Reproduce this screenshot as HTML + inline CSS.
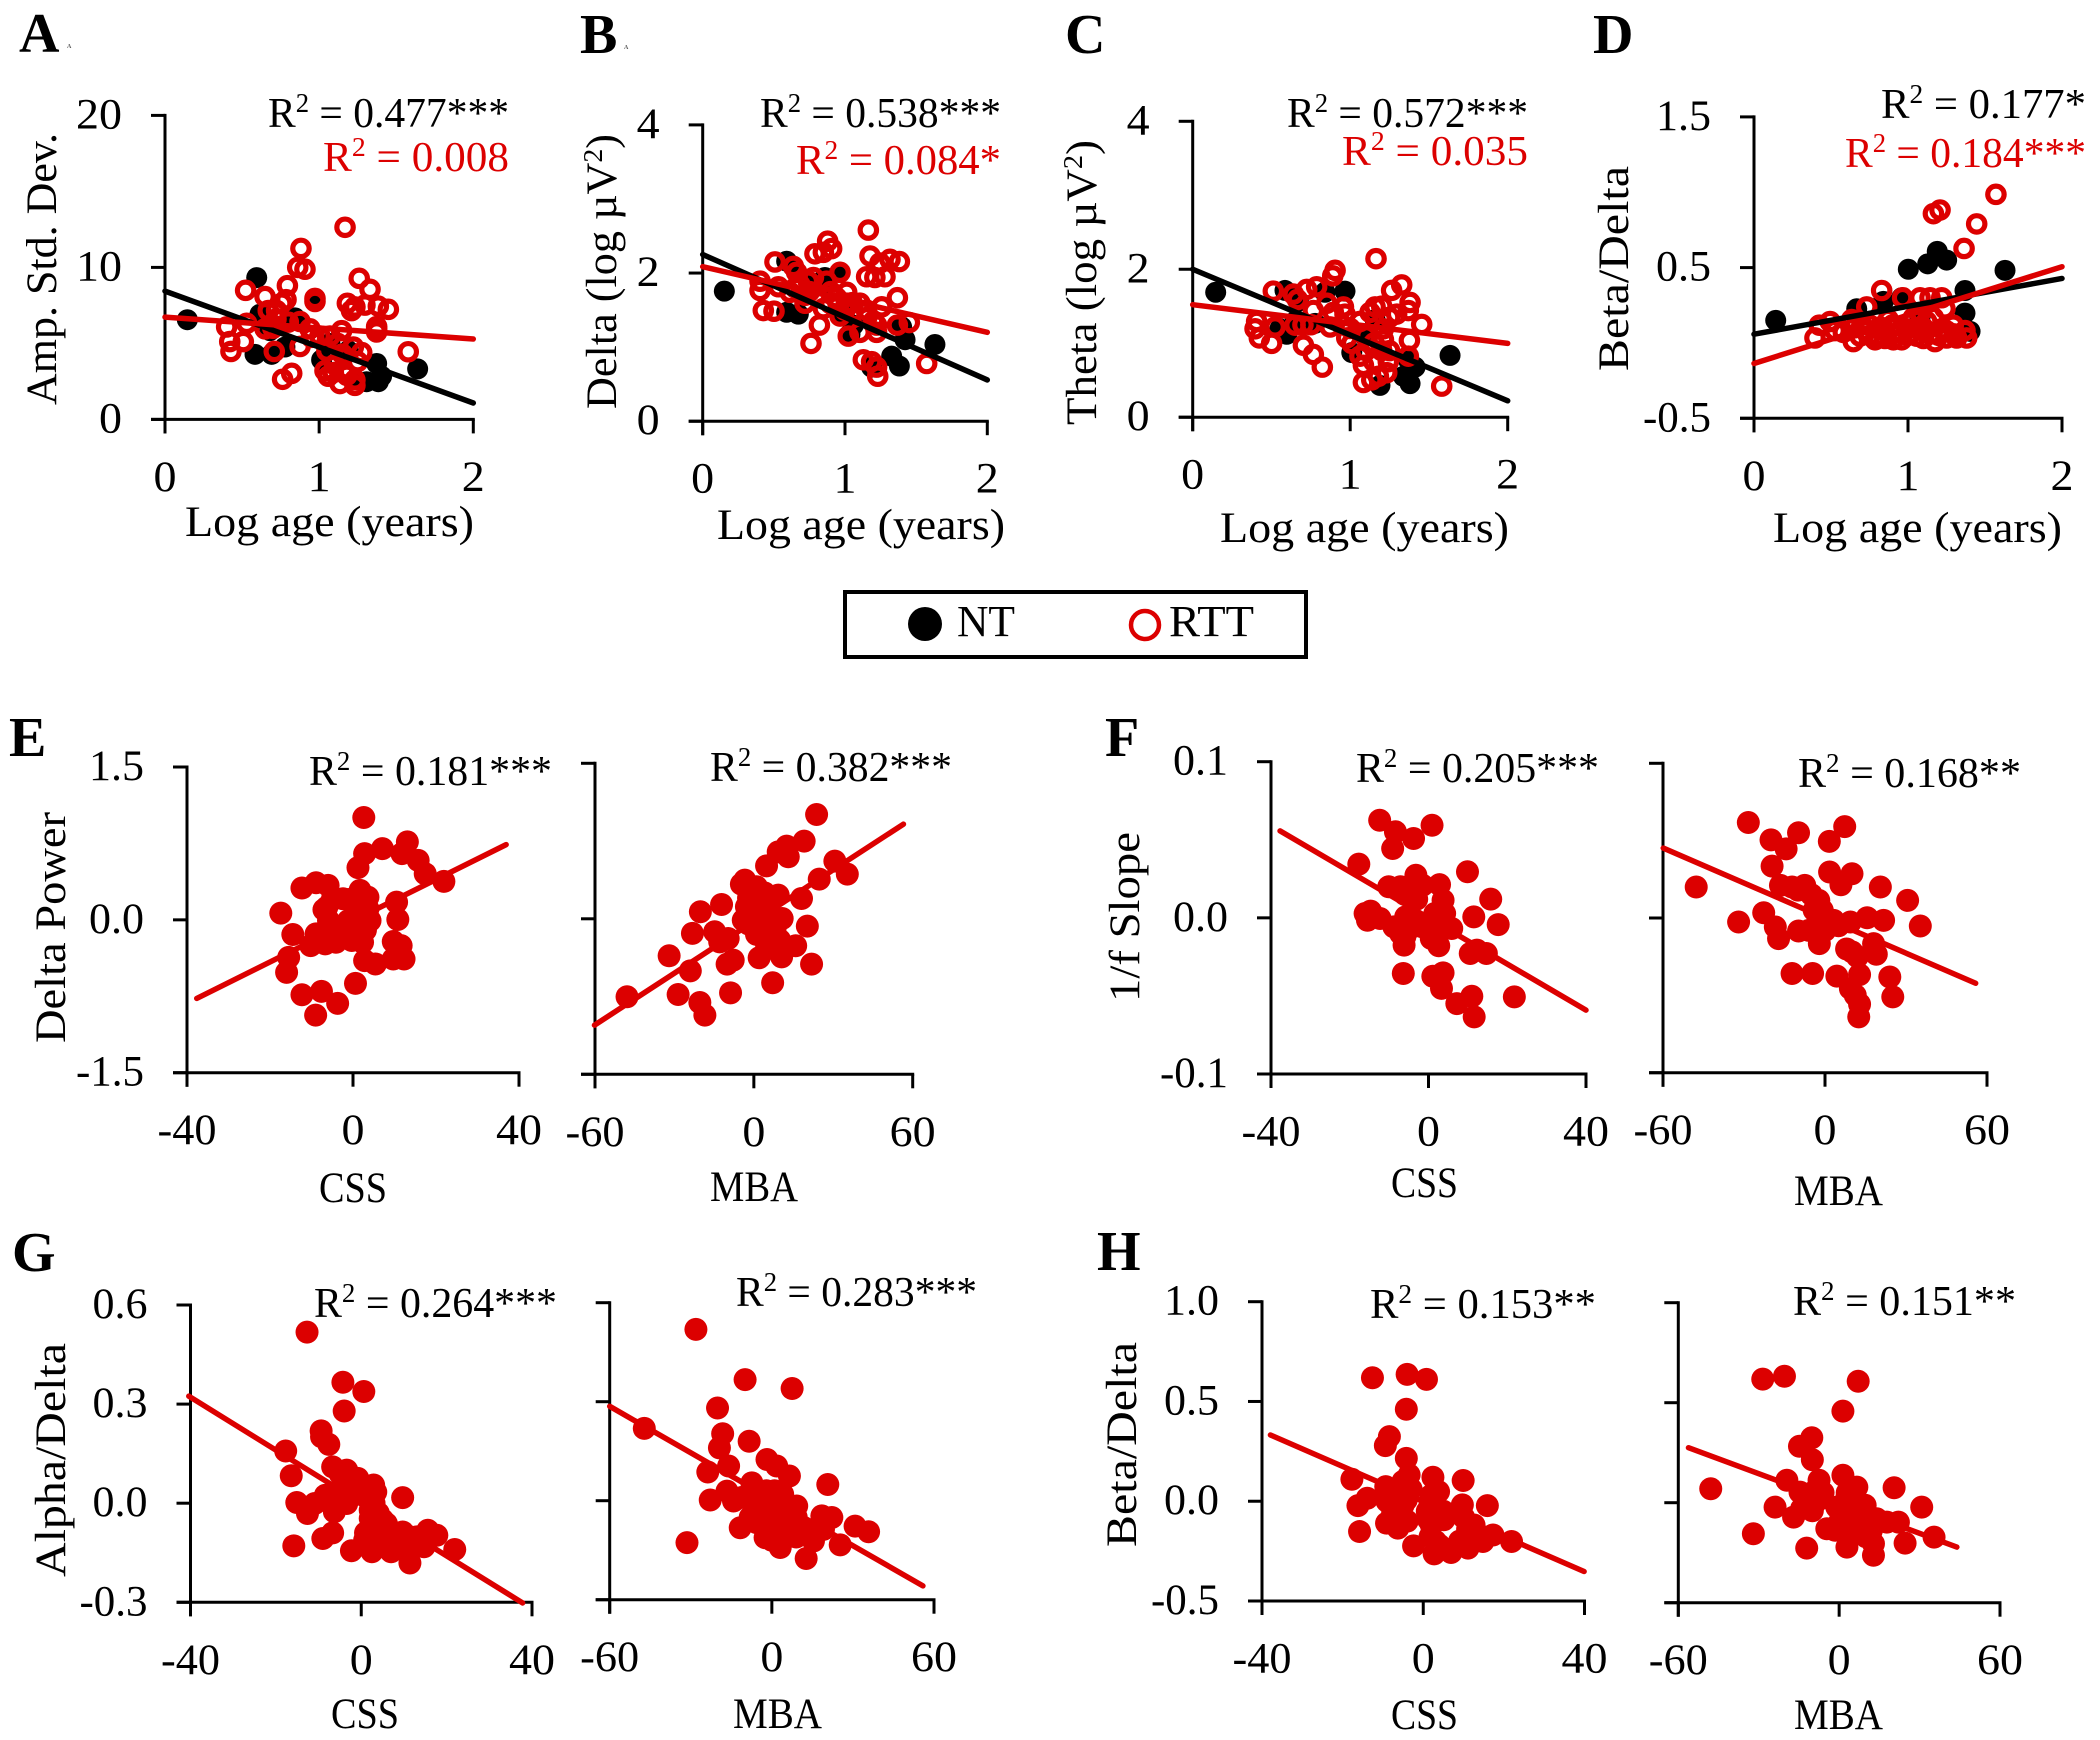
<!DOCTYPE html>
<html lang="en">
<head>
<meta charset="utf-8">
<title>EEG power correlations</title>
<style>
html,body{margin:0;padding:0;background:#fff;width:2100px;height:1740px;overflow:hidden}
svg{display:block}
text{font-family:"Liberation Serif",serif;font-size:43px;fill:#000}
.red{fill:#dc0000}
.r2{font-size:42px}
.letter{font-size:56px;font-weight:bold}
.tiny{font-size:6px;fill:#555;font-weight:bold}
</style>
</head>
<body>
<svg id="figure" xmlns="http://www.w3.org/2000/svg" width="2100" height="1740" viewBox="0 0 2100 1740">
  <rect width="2100" height="1740" fill="#fff"/>
  <g id="plots"></g>

  <g>
    <text class="letter" x="19" y="52">A</text>
    <text class="tiny" x="67" y="48">A</text>
    <text class="letter" x="580" y="53">B</text>
    <text class="tiny" x="624" y="49">A</text>
    <text class="letter" x="1065" y="53">C</text>
    <text class="letter" x="1593" y="53">D</text>
    <text class="letter" x="9" y="756">E</text>
    <text class="letter" x="1105" y="756">F</text>
    <text class="letter" x="12" y="1271">G</text>
    <text class="letter" x="1097" y="1270">H</text>
  </g>

  <g>
    <text x="185" y="536" textLength="289" lengthAdjust="spacingAndGlyphs">Log age (years)</text>
    <text x="717" y="539" textLength="288" lengthAdjust="spacingAndGlyphs">Log age (years)</text>
    <text x="1220" y="542" textLength="289" lengthAdjust="spacingAndGlyphs">Log age (years)</text>
    <text x="1773" y="542" textLength="289" lengthAdjust="spacingAndGlyphs">Log age (years)</text>
    <text x="319" y="1202" textLength="68" lengthAdjust="spacingAndGlyphs">CSS</text>
    <text x="710" y="1201" textLength="88" lengthAdjust="spacingAndGlyphs">MBA</text>
    <text x="1391" y="1197" textLength="67" lengthAdjust="spacingAndGlyphs">CSS</text>
    <text x="1794" y="1205" textLength="89" lengthAdjust="spacingAndGlyphs">MBA</text>
    <text x="331" y="1728" textLength="68" lengthAdjust="spacingAndGlyphs">CSS</text>
    <text x="733" y="1728" textLength="89" lengthAdjust="spacingAndGlyphs">MBA</text>
    <text x="1391" y="1729" textLength="67" lengthAdjust="spacingAndGlyphs">CSS</text>
    <text x="1794" y="1729" textLength="89" lengthAdjust="spacingAndGlyphs">MBA</text>
  </g>

  <g>
    <text transform="translate(56 405) rotate(-90)" textLength="272" lengthAdjust="spacingAndGlyphs">Amp. Std. Dev.</text>
    <text transform="translate(616 409) rotate(-90)" textLength="275" lengthAdjust="spacingAndGlyphs">Delta (log µV<tspan dy="-14" font-size="27">2</tspan><tspan dy="14">)</tspan></text>
    <text transform="translate(1096 425) rotate(-90)" textLength="285" lengthAdjust="spacingAndGlyphs">Theta (log µV<tspan dy="-14" font-size="27">2</tspan><tspan dy="14">)</tspan></text>
    <text transform="translate(1628 371) rotate(-90)" textLength="205" lengthAdjust="spacingAndGlyphs">Beta/Delta</text>
    <text transform="translate(65 1043) rotate(-90)" textLength="231" lengthAdjust="spacingAndGlyphs">Delta Power</text>
    <text transform="translate(1139 1002) rotate(-90)" textLength="170" lengthAdjust="spacingAndGlyphs">1/f Slope</text>
    <text transform="translate(65 1577) rotate(-90)" textLength="234" lengthAdjust="spacingAndGlyphs">Alpha/Delta</text>
    <text transform="translate(1136 1547) rotate(-90)" textLength="205" lengthAdjust="spacingAndGlyphs">Beta/Delta</text>
  </g>

  <g>
    <text class="r2" x="268" y="127" textLength="241" lengthAdjust="spacingAndGlyphs">R<tspan dy="-15" font-size="27">2</tspan><tspan dy="15"> = 0.477***</tspan></text>
    <text class="r2 red" x="323" y="171" textLength="186" lengthAdjust="spacingAndGlyphs">R<tspan dy="-15" font-size="27">2</tspan><tspan dy="15"> = 0.008</tspan></text>
    <text class="r2" x="760" y="127" textLength="241" lengthAdjust="spacingAndGlyphs">R<tspan dy="-15" font-size="27">2</tspan><tspan dy="15"> = 0.538***</tspan></text>
    <text class="r2 red" x="796" y="174" textLength="205" lengthAdjust="spacingAndGlyphs">R<tspan dy="-15" font-size="27">2</tspan><tspan dy="15"> = 0.084*</tspan></text>
    <text class="r2" x="1287" y="127" textLength="241" lengthAdjust="spacingAndGlyphs">R<tspan dy="-15" font-size="27">2</tspan><tspan dy="15"> = 0.572***</tspan></text>
    <text class="r2 red" x="1342" y="165" textLength="186" lengthAdjust="spacingAndGlyphs">R<tspan dy="-15" font-size="27">2</tspan><tspan dy="15"> = 0.035</tspan></text>
    <text class="r2" x="1881" y="118" textLength="205" lengthAdjust="spacingAndGlyphs">R<tspan dy="-15" font-size="27">2</tspan><tspan dy="15"> = 0.177*</tspan></text>
    <text class="r2 red" x="1845" y="167" textLength="241" lengthAdjust="spacingAndGlyphs">R<tspan dy="-15" font-size="27">2</tspan><tspan dy="15"> = 0.184***</tspan></text>
    <text class="r2" x="309" y="785" textLength="243" lengthAdjust="spacingAndGlyphs">R<tspan dy="-15" font-size="27">2</tspan><tspan dy="15"> = 0.181***</tspan></text>
    <text class="r2" x="710" y="781" textLength="242" lengthAdjust="spacingAndGlyphs">R<tspan dy="-15" font-size="27">2</tspan><tspan dy="15"> = 0.382***</tspan></text>
    <text class="r2" x="1356" y="782" textLength="243" lengthAdjust="spacingAndGlyphs">R<tspan dy="-15" font-size="27">2</tspan><tspan dy="15"> = 0.205***</tspan></text>
    <text class="r2" x="1798" y="787" textLength="223" lengthAdjust="spacingAndGlyphs">R<tspan dy="-15" font-size="27">2</tspan><tspan dy="15"> = 0.168**</tspan></text>
    <text class="r2" x="314" y="1317" textLength="243" lengthAdjust="spacingAndGlyphs">R<tspan dy="-15" font-size="27">2</tspan><tspan dy="15"> = 0.264***</tspan></text>
    <text class="r2" x="736" y="1306" textLength="241" lengthAdjust="spacingAndGlyphs">R<tspan dy="-15" font-size="27">2</tspan><tspan dy="15"> = 0.283***</tspan></text>
    <text class="r2" x="1370" y="1318" textLength="226" lengthAdjust="spacingAndGlyphs">R<tspan dy="-15" font-size="27">2</tspan><tspan dy="15"> = 0.153**</tspan></text>
    <text class="r2" x="1793" y="1315" textLength="223" lengthAdjust="spacingAndGlyphs">R<tspan dy="-15" font-size="27">2</tspan><tspan dy="15"> = 0.151**</tspan></text>
  </g>

  <g>
    <rect x="845" y="592" width="461" height="65" fill="#fff" stroke="#000" stroke-width="4"/>
    <circle cx="925" cy="624" r="17" fill="#000"/>
    <text x="957" y="636" textLength="58" lengthAdjust="spacingAndGlyphs" style="font-size:44px">NT</text>
    <circle cx="1145" cy="625" r="14" fill="none" stroke="#dc0000" stroke-width="4.5"/>
    <text x="1169" y="636" textLength="85" lengthAdjust="spacingAndGlyphs" style="font-size:44px">RTT</text>
  </g>
</svg>

<script>
// ---- tick values and labels ----
const ageTicks = [0, 1, 2];
const ageTickLabels = ['0', '1', '2'];
const cssTicks = [-40, 0, 40];
const cssTickLabels = ['-40', '0', '40'];
const mbaTicks = [-60, 0, 60];
const mbaTickLabels = ['-60', '0', '60'];
const ampTicks = [0, 10, 20];
const ampTickLabels = ['0', '10', '20'];
const powerTicks = [0, 2, 4];
const powerTickLabels = ['0', '2', '4'];
const ratioDTicks = [-0.5, 0.5, 1.5];
const ratioDTickLabels = ['-0.5', '0.5', '1.5'];
const deltaPowerTicks = [-1.5, 0, 1.5];
const deltaPowerTickLabels = ['-1.5', '0.0', '1.5'];
const slopeTicks = [-0.1, 0, 0.1];
const slopeTickLabels = ['-0.1', '0.0', '0.1'];
const alphaTicks = [-0.3, 0, 0.3, 0.6];
const alphaTickLabels = ['-0.3', '0.0', '0.3', '0.6'];
const betaTicks = [-0.5, 0, 0.5, 1];
const betaTickLabels = ['-0.5', '0.0', '0.5', '1.0'];

// ---- panel A ----
const aNtX = [.145,.595,.973,.616,.584,.692,.778,.843,.681,1.373,1.639,1.308,1.384,1.405,1.232,1.016,1.07,1.189];
const aNtY = [6.56,9.33,7.88,6.92,4.28,4.28,4.76,6.68,5.84,3.68,3.32,2.48,2.48,2.84,2.6,3.92,5,4.52];
const aRttX = [1.168,.882,.861,.908,.794,.523,.649,.973,.973,.785,1.26,1.33,1.183,1.232,1.297,1.384,1.449,1.21,.67,.724,.757,.876,.4,.53,.649,.42,.508,.428,.709,.876,.763,.822,1.578,1.146,1.07,1.005,1.222,1.276,1.038,1.092,1.157,1.135,1.232,1.232,1.059,1.373,1.373,1.373,.94,1.15,1.05,1.1,1.18,.95,.72,.8,.7,1.12,1.25];
const aRttY = [12.64,11.25,10,9.88,8.8,8.49,8.08,7.96,7.76,7.88,9.28,8.56,7.64,7.4,7.52,7.45,7.24,7.16,7.16,7.16,7.64,6.44,6.08,6.32,5.96,5.12,5.12,4.47,4.47,4.8,2.64,3.03,4.45,5.84,5.48,5.48,4.76,4.4,3.2,3.08,3.2,2.36,2.24,2.6,2.84,5.96,5.75,6.1,5.96,4.3,4.5,3.6,2.9,5.4,6.6,6.4,6,5,3.8];
const aNtLineY = [8.44, 1.08];
const aRttLineY = [6.73, 5.29];

// ---- panel B ----
const bNtX = [.152,.59,.965,.859,.871,.59,.672,.988,1.035,1.422,1.632,1.328,1.382,1.187,1.398,1.059,.637,.742];
const bNtY = [1.756,2.16,2.01,1.94,1.864,1.47,1.445,1.445,1.174,1.1,1.036,.878,.745,.73,1.272,1.297,2.09,1.89];
const bRttX = [1.164,.878,.906,.789,.848,1.176,1.316,1.382,1.246,.508,.637,.66,1.152,1.21,1.281,1.368,.403,.403,.532,.778,.742,.965,.871,1.012,.941,1.105,1.258,.426,.501,.719,.848,.965,.82,.761,1.368,1.452,1.222,1.152,1.023,1.105,1.222,1.129,1.187,1.222,1.23,1.574,.684,.614,1.059,.895,1.012,.75,.8,.95,.9,1,1.05,.72,.65,1.15,1.2];
const bRttY = [2.58,2.43,2.33,2.26,2.28,2.23,2.185,2.155,2.135,2.15,2.09,2.01,1.95,1.94,1.95,1.667,1.89,1.765,1.815,1.94,1.89,2.01,1.89,1.74,1.667,1.593,1.544,1.494,1.485,1.593,1.52,1.42,1.297,1.05,1.297,1.332,1.297,1.396,1.149,1.2,1.2,.829,.804,.73,.607,.779,1.84,1.74,1.494,1.593,1.593,1.75,1.7,1.6,1.75,1.5,1.6,1.7,1.8,1.5,1.35];
const bNtLineY = [2.25, .557];
const bRttLineY = [2.086, 1.2];

// ---- panel C ----
const cNtX = [.146,.586,.967,.84,.671,.777,.65,.554,.597,1.094,1.01,1.189,1.338,1.38,1.412,1.369,1.634,1.158];
const cNtY = [1.689,1.714,1.704,1.689,1.565,1.269,1.294,1.195,1.121,1.096,.874,.43,.553,.454,.677,.775,.835,1.319];
const cRttX = [1.164,.904,.889,1.327,1.263,1.38,.512,.639,.665,.724,.787,1.158,1.126,1.295,.406,.396,.423,.501,.523,.65,.766,.893,.967,.872,.978,.703,.766,.823,1.454,1.376,1.369,1.581,1.062,1.211,1.062,1.084,1.242,1.232,1.084,1.137,1.179,1.211,1.01,.957,.851,1.369,.7,.75,1,1.1,1.15,1.2,1.1,1.25,.95,1.15,1.2,1.25];
const cRttY = [2.143,1.985,1.911,1.788,1.714,1.551,1.704,1.664,1.59,1.728,1.763,1.491,1.417,1.393,1.294,1.195,1.072,.998,1.22,1.244,1.442,1.417,1.393,1.22,1.072,.973,.849,.677,1.254,1.037,.825,.42,1.294,1.047,.825,.701,.751,.602,.469,.504,.553,1.195,.998,1.491,1.541,1.442,1.25,1.25,1.2,1.1,1,.9,.9,.9,1.25,.75,1.5,1.35];
const cNtLineY = [2, .222];
const cRttLineY = [1.521, .998];

// ---- panel D ----
const dNtX = [.141,1.002,1.128,1.19,1.251,1.63,1.37,1.37,1.403,.667,.84,.959,1.078];
const dNtY = [.15,.489,.525,.608,.55,.482,.348,.198,.077,.227,.276,.3,.167];
const dRttX = [1.571,1.446,1.364,1.208,1.165,.829,.965,.732,1.078,1.143,1.219,1.24,.396,.424,.494,.526,.634,.645,.786,.905,.959,1.175,1.316,1.381,1.37,1.294,1.219,1.056,1.11,1.121,.991,.818,.732,.688,1.035,1.165,.872,.58,1.251,.65,.7,.75,.8,.85,.9,.95,1,1.05,1.1,1.15,1.2,1.25,1.3,.9,1,1.1,.75,.85,1.08];
const dRttY = [.986,.79,.627,.882,.858,.348,.3,.239,.3,.3,.3,.227,.033,.118,.142,.082,.155,.009,.021,.021,.021,.009,.033,.033,.082,.118,.094,.045,.07,.142,.094,.106,.082,.045,.167,.167,.155,.07,.033,.1,.12,.05,.05,.08,.06,.07,.05,.1,.03,.06,.05,.08,.06,.12,.13,.1,.12,.03,.2];
const dNtLineY = [.058, .428];
const dRttLineY = [-.136, .506];
const ageLineX = [0, 2];

// ---- panel E ----
const eCssX = [2.6,2.8,7.1,13.1,11.8,15.7,17.4,21.9,1.2,-12.3,-8.9,-6,-17.4,-14.5,-15.5,-16,-12.3,-7.6,-3.7,-9,.6,10.5,10.8,9.7,11.6,12.3,9.7,5.4,2.8,1.7,3.6,3.6,-2.4,-6.3,4.1,1.9,-1.1,-5.9,-.3,-4.1,-6.7,-10.2,-8.9,2.3,1,-3.3,2.8,-5,-1,2,0,3,-7,-5,-2];
const eCssY = [1.004,.65,.699,.765,.65,.584,.453,.377,.512,.312,.364,.338,.066,-.144,-.368,-.515,-.735,-.702,-.82,-.935,-.624,.174,.003,-.213,-.253,-.384,-.384,-.433,-.4,.289,.223,.108,.207,.125,-.007,-.138,-.007,-.007,-.203,-.22,-.236,-.253,-.138,-.22,.059,-.138,.141,-.15,.2,.2,-.1,-.1,.1,.2,-.1];
const eCssLineX = [-37.65, 36.9];
const eCssLineY = [-.771, .738];
const eMbaX = [23.7,19,12.4,13,9.2,4.8,30.6,35.3,24.7,18,-3.4,1,-4.7,9.2,-12.2,-20.2,-2.8,3.5,10.7,-4,1.6,20.2,-23.2,-14.8,-9.7,-12.9,-32,-24,-47.9,-28.6,-20.4,-18.5,-8.8,-7.8,-10.1,2,10.5,7.1,21.8,15.8,6.1,9.8,4.8,-.3,6.1,-2,2,5,0,-2,3,6,8,1,4,-1];
const eMbaY = [1.006,.749,.701,.598,.646,.511,.556,.431,.383,.196,.373,.309,.334,.228,.138,.068,.116,.148,.003,-.013,-.077,-.071,-.141,-.125,-.19,-.222,-.357,-.502,-.752,-.73,-.807,-.929,-.714,-.399,-.437,-.376,-.367,-.617,-.437,-.26,-.206,-.206,-.254,.051,.051,.2,.2,.1,.05,-.05,-.1,-.15,-.1,-.15,.25,.3];
const eMbaLineX = [-60.2, 56.5];
const eMbaLineY = [-1.026, .913];

// ---- panel F ----
const fCssX = [-12.4,-8.4,-3.8,-9.1,.9,-17.7,9.9,-3.2,2.8,-10.1,-7.1,-4.9,-1.5,3.7,15.8,11.5,17.7,-16.1,-14.7,-15.5,-12.3,-8.8,-5.8,-6.2,-4.1,1.6,4.1,5.9,.7,2.6,-1.5,10.6,12.3,14.7,-6.4,1.1,3.7,3.3,7.2,11,11.6,21.8,3.3,-7.1,-6,-3,-7,-6,-3,1,2,4,-3];
const fCssY = [.0625,.0551,.0508,.0444,.0593,.0344,.0295,.0273,.0213,.0199,.0199,.0145,.0209,.0113,.012,.0006,-.0043,.0028,.0043,-.0015,-.0004,-.0058,.0006,-.0175,-.0058,.0028,.0028,-.0068,-.0132,-.0179,-.0058,-.0228,-.0207,-.0228,-.0356,-.0374,-.0352,-.0452,-.0549,-.0502,-.0634,-.0506,-.0058,-.01,.015,.012,-.005,-.012,-.003,-.005,-.012,-.003,.022];
const fCssLineX = [-37.7, 40];
const fCssLineY = [.0557, -.0591];
const fMbaX = [-28.4,-9.8,-20,7.3,1.6,-14.4,-19.6,1.7,10,5.9,20.5,30.6,35.3,-47.7,-16.5,-12.2,-7.5,-2.3,-22.7,-32,-18.4,-17.2,-9.8,-6,-2.1,-.5,3.2,9.4,15.6,21.7,-1.7,10,18,19,-12.2,-4.6,4.4,12.8,24,25.1,9.4,11.2,12.8,12.5,-2,0,2,5,-3,-5,-1,-10,-4,12,8];
const fMbaY = [.0617,.0551,.0505,.0591,.0495,.0447,.0335,.0297,.0286,.0215,.02,.0114,-.0052,.02,.0211,.02,.0211,.0114,.0034,-.0026,-.0058,-.0133,-.0084,-.008,-.0166,-.0015,-.0015,-.0026,.0002,-.0015,-.0058,-.0219,-.0166,-.0234,-.0359,-.0359,-.0376,-.0366,-.0381,-.051,-.0456,-.0499,-.0557,-.0639,.002,-.008,-.005,-.005,-.01,.015,.005,.018,.005,-.025,-.02];
const fMbaLineX = [-59.9, 55.8];
const fMbaLineY = [.0452, -.0422];

// ---- panel G ----
const gCssX = [-12.7,-4.3,.6,-4,-9.4,-9.3,-7.6,-17.7,-16.4,-6.7,-3.4,-.8,2.9,3.4,9.7,-15.1,-12.6,-10.9,-8.4,-5.9,-3.4,-6.3,-15.8,-9,-6.7,2.1,2.1,5.9,3.8,9.7,13,15.6,17.7,21.9,14.7,11.4,7,2.5,-2.3,.8,9.7,-2,0,1,3,4,5,3,6,8,11,14,-5,-3,-7,-5,1,4,10];
const gCssY = [.518,.366,.338,.279,.219,.201,.178,.158,.083,.11,.1,.075,.055,.034,.017,.002,-.031,-.001,.024,.019,-.001,-.026,-.129,-.107,-.09,-.021,-.046,-.062,-.082,-.087,-.102,-.082,-.097,-.14,-.132,-.181,-.147,-.147,-.144,-.112,-.122,.03,.04,.02,0,-.03,-.05,-.07,-.09,-.1,-.1,-.1,.09,.07,.03,0,-.09,-.12,-.14];
const gCssLineX = [-40.4, 37.8];
const gCssLineY = [.324, -.302];
const gMbaX = [-28.1,-9.9,7.5,-20.1,-18.2,-19.4,-8.4,-47.2,-23.7,-16,-1.8,1.8,6.5,20.7,-7.4,-16.6,-22.8,-14.2,-11.7,-31.4,-5.5,1.8,9.2,18.5,22.2,30.8,35.8,25.3,12.7,3.1,-2.5,10.5,15.4,-.6,5.5,-5.5,19.1,-5,-2,1,4,-3,0,3,-3,1,6,9,9,13,4,0,-8,-11,-8];
const gMbaY = [.519,.367,.34,.281,.203,.16,.18,.219,.087,.105,.125,.105,.075,.049,.054,.029,.002,-.001,-.082,-.127,.004,.014,-.016,-.046,-.051,-.077,-.094,-.134,-.175,-.142,-.112,-.077,-.122,-.036,-.056,-.067,-.087,.03,.03,.03,.02,-.02,-.02,-.05,-.08,-.1,-.09,-.05,-.11,-.1,-.12,-.12,.01,.01,-.05];
const gMbaLineX = [-60, 55.9];
const gMbaLineY = [.286, -.258];

// ---- panel H ----
const hCssX = [-12.6,-4,.8,-4.2,-8.4,-9.4,-4.2,-3.5,-17.7,2.4,3.8,9.9,-16.2,-13.9,-9.3,-7.6,-4.2,9.7,15.9,-15.8,-9.1,-6.3,-7.6,1.7,1.3,5.1,12.6,17.3,14.8,11.1,6.9,2.7,-2.4,21.9,1.7,12.6,-6,-3,-8,-5,-7,-4,2,3,1,2,3,4,10,11,9,-9,-5,5];
const hCssY = [.619,.636,.611,.461,.324,.279,.215,.132,.11,.12,.048,.104,-.022,.015,.073,.023,.007,-.018,-.022,-.152,-.11,-.135,-.06,-.01,-.093,-.093,-.119,-.169,-.202,-.235,-.257,-.264,-.224,-.202,-.177,-.194,.05,.06,.02,-.02,-.07,-.1,.03,-.02,-.05,-.12,-.2,-.22,-.08,-.14,-.2,0,.1,-.05];
const hCssLineX = [-37.9, 39.9];
const hCssLineY = [.332, -.352];
const hMbaX = [-28.5,-20.4,7.1,1.4,-10.2,-14.8,-10,-47.9,-19.5,-7.5,1.4,6.6,20.5,-23.9,-17,-14.6,-9.6,-32,-12.1,-4.6,-1.5,2.9,9.7,12.8,12.8,17.8,22.1,24.6,30.8,35.4,2.9,-.9,7.8,11.6,-12,-9,-7,-10,-14,-6,3,5,1,7,3,0,9,10,12,5,14,-2];
const hMbaY = [.618,.632,.607,.458,.325,.282,.215,.07,.112,.112,.137,.078,.075,-.022,-.072,.053,-.013,-.155,-.227,-.13,-.138,-.222,-.013,-.263,-.205,-.097,-.097,-.202,-.022,-.172,.028,-.022,-.088,-.138,.04,.06,.02,-.04,-.03,.05,.05,.02,-.02,-.05,-.1,-.1,-.12,-.17,-.14,-.13,-.08,-.13];
const hMbaLineX = [-56.2, 43.9];
const hMbaLineY = [.275, -.222];

// ---- chart layout (axis frames on the page) ----
const charts = [
 {id:'a', frame:[165,473.3,419.4,115.4], xd:[0,2], yd:[0,20], xt:ageTicks, xl:ageTickLabels, yt:ampTicks, yl:ampTickLabels, nt:[aNtX,aNtY], rtt:[aRttX,aRttY], ntLine:[ageLineX,aNtLineY], rttLine:[ageLineX,aRttLineY]},
 {id:'b', frame:[702.7,987.3,421.2,124.9], xd:[0,2], yd:[0,4], xt:ageTicks, xl:ageTickLabels, yt:powerTicks, yl:powerTickLabels, nt:[bNtX,bNtY], rtt:[bRttX,bRttY], ntLine:[ageLineX,bNtLineY], rttLine:[ageLineX,bRttLineY]},
 {id:'c', frame:[1192.7,1507.7,417.2,121.3], xd:[0,2], yd:[0,4], xt:ageTicks, xl:ageTickLabels, yt:powerTicks, yl:powerTickLabels, nt:[cNtX,cNtY], rtt:[cRttX,cRttY], ntLine:[ageLineX,cNtLineY], rttLine:[ageLineX,cRttLineY]},
 {id:'d', frame:[1754,2062,418.3,116.9], xd:[0,2], yd:[-.5,1.5], xt:ageTicks, xl:ageTickLabels, yt:ratioDTicks, yl:ratioDTickLabels, nt:[dNtX,dNtY], rtt:[dRttX,dRttY], ntLine:[ageLineX,dNtLineY], rttLine:[ageLineX,dRttLineY]},
 {id:'e-css', frame:[187,519,1072.7,767], xd:[-40,40], yd:[-1.5,1.5], xt:cssTicks, xl:cssTickLabels, yt:deltaPowerTicks, yl:deltaPowerTickLabels, rtt:[eCssX,eCssY], rttLine:[eCssLineX,eCssLineY], solid:true},
 {id:'e-mba', frame:[595,912.7,1074.3,763.3], xd:[-60,60], yd:[-1.5,1.5], xt:mbaTicks, xl:mbaTickLabels, yt:deltaPowerTicks, rtt:[eMbaX,eMbaY], rttLine:[eMbaLineX,eMbaLineY], solid:true},
 {id:'f-css', frame:[1271,1586,1074,761.7], xd:[-40,40], yd:[-.1,.1], xt:cssTicks, xl:cssTickLabels, yt:slopeTicks, yl:slopeTickLabels, rtt:[fCssX,fCssY], rttLine:[fCssLineX,fCssLineY], solid:true},
 {id:'f-mba', frame:[1663,1987,1072.7,763.3], xd:[-60,60], yd:[-.1,.1], xt:mbaTicks, xl:mbaTickLabels, yt:slopeTicks, rtt:[fMbaX,fMbaY], rttLine:[fMbaLineX,fMbaLineY], solid:true},
 {id:'g-css', frame:[190.5,532,1602.3,1305], xd:[-40,40], yd:[-.3,.6], xt:cssTicks, xl:cssTickLabels, yt:alphaTicks, yl:alphaTickLabels, rtt:[gCssX,gCssY], rttLine:[gCssLineX,gCssLineY], solid:true},
 {id:'g-mba', frame:[609.7,934,1599.7,1302.7], xd:[-60,60], yd:[-.3,.6], xt:mbaTicks, xl:mbaTickLabels, yt:alphaTicks, rtt:[gMbaX,gMbaY], rttLine:[gMbaLineX,gMbaLineY], solid:true},
 {id:'h-css', frame:[1262,1584.5,1601,1301.7], xd:[-40,40], yd:[-.5,1], xt:cssTicks, xl:cssTickLabels, yt:betaTicks, yl:betaTickLabels, rtt:[hCssX,hCssY], rttLine:[hCssLineX,hCssLineY], solid:true},
 {id:'h-mba', frame:[1678.3,2000,1602.7,1302.7], xd:[-60,60], yd:[-.5,1], xt:mbaTicks, xl:mbaTickLabels, yt:betaTicks, rtt:[hMbaX,hMbaY], rttLine:[hMbaLineX,hMbaLineY], solid:true}
];

const SVGNS = 'http://www.w3.org/2000/svg';
const RED = '#dc0000';
const plots = document.getElementById('plots');

function make(tag, attrs, parent) {
  const n = document.createElementNS(SVGNS, tag);
  for (const k in attrs) n.setAttribute(k, attrs[k]);
  parent.appendChild(n);
  return n;
}
function labelWidth(s) {
  let w = 0;
  for (const ch of s) w += ch === '.' ? 9 : ch === '-' ? 13 : 23;
  return w;
}

charts.forEach(function (c) {
  const x0 = c.frame[0], x1 = c.frame[1], yB = c.frame[2], yT = c.frame[3];
  const sx = function (v) { return x0 + (v - c.xd[0]) / (c.xd[1] - c.xd[0]) * (x1 - x0); };
  const sy = function (v) { return yB - (v - c.yd[0]) / (c.yd[1] - c.yd[0]) * (yB - yT); };

  const g = make('g', {}, plots);
  
  

  // axes
  const yAxis = make('line', {x1:x0, x2:x0, y1:yT - 1.5, y2:yB + 14, stroke:'#000', 'stroke-width':3}, g);
  
  
  const xAxis = make('line', {x1:x0 - 14, x2:x1 + 1.5, y1:yB, y2:yB, stroke:'#000', 'stroke-width':3}, g);
  
  

  c.yt.forEach(function (t, i) {
    const tick = make('line', {x1:x0 - 14, x2:x0, y1:sy(t), y2:sy(t), stroke:'#000', 'stroke-width':3}, g);
    
    
    if (c.yl) {
      const lbl = make('text', {x:x0 - 43, y:sy(t) + 13, 'text-anchor':'end', textLength:labelWidth(c.yl[i]), lengthAdjust:'spacingAndGlyphs'}, g);
      lbl.textContent = c.yl[i];
      
      
    }
  });
  c.xt.forEach(function (t, i) {
    const tick = make('line', {x1:sx(t), x2:sx(t), y1:yB, y2:yB + 14, stroke:'#000', 'stroke-width':3}, g);
    
    
    const lbl = make('text', {x:sx(t), y:yB + 71.5, 'text-anchor':'middle', textLength:labelWidth(c.xl[i]), lengthAdjust:'spacingAndGlyphs'}, g);
    lbl.textContent = c.xl[i];
    
    
  });

  // NT points
  if (c.nt) {
    c.nt[0].forEach(function (v, i) {
      const p = make('circle', {cx:sx(v), cy:sy(c.nt[1][i]), r:10.5, fill:'#000'}, g);
      
      
    });
  }
  // solid panels draw the line beneath the points
  function drawLine(pair, color, name) {
    const l = make('line', {x1:sx(pair[0][0]), y1:sy(pair[1][0]), x2:sx(pair[0][1]), y2:sy(pair[1][1]), stroke:color, 'stroke-width':5.5, 'stroke-linecap':'round'}, g);
    
    
  }
  if (c.solid) drawLine(c.rttLine, RED, 'fit-line');

  // RTT points
  c.rtt[0].forEach(function (v, i) {
    const attrs = c.solid
      ? {cx:sx(v), cy:sy(c.rtt[1][i]), r:11.5, fill:RED}
      : {cx:sx(v), cy:sy(c.rtt[1][i]), r:8.2, fill:'none', stroke:RED, 'stroke-width':5.2};
    const p = make('circle', attrs, g);
    
    
  });

  if (!c.solid) {
    drawLine(c.ntLine, '#000', 'nt-fit-line');
    drawLine(c.rttLine, RED, 'rtt-fit-line');
  }
});
</script>
</body>
</html>
